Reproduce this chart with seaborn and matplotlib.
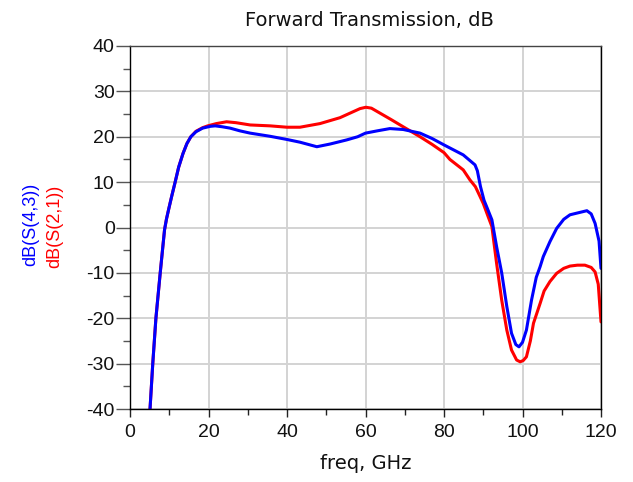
import numpy as np
import pandas as pd
import seaborn as sns
import matplotlib
matplotlib.use("Agg")
import matplotlib.pyplot as plt
from matplotlib.ticker import MultipleLocator

# ---- data ----
freq_s43 = [5.1, 5.8, 6.6, 7.7, 8.3, 8.8, 9.3, 9.9, 10.6, 11.5, 12.4, 13.5, 14.5, 15.5, 16.8, 18.5,
            20.5, 21.7, 23.5, 25.5, 28.0, 30.6,
            35.7, 40.0, 43.3, 47.6, 51.0, 55.2, 58.0, 60.0, 63.0, 66.2, 69.6, 73.9, 77.0,
            80.0, 84.9, 87.9, 88.5, 89.3, 90.2, 91.0, 92.2, 93.4, 94.7, 96.0, 97.2, 98.3,
            99.1, 100.0, 101.0, 102.3, 103.5, 104.5, 105.3, 107.0, 108.7, 110.5, 112.1,
            114.0, 116.4, 117.5, 118.5, 119.5, 120.0]
db_s43 = [-40, -30, -20, -10, -4.8, -0.5, 1.9, 4.2, 6.8, 10, 13.3, 16.3, 18.5, 20, 21.1, 21.9,
          22.3, 22.4, 22.2, 21.9, 21.3, 20.8,
          20.1, 19.4, 18.8, 17.8, 18.4, 19.3, 20.0, 20.8, 21.3, 21.8, 21.6, 20.8, 19.6,
          18.2, 16.0, 13.8, 12.5, 9.0, 6.0, 4.3, 1.7, -4.2, -10, -17.4, -23.3, -25.8,
          -26.3, -25.3, -22.6, -16.0, -11.0, -8.6, -6.4, -3.1, -0.2, 1.8, 2.8,
          3.2, 3.7, 3.0, 0.9, -3.0, -9.0]

freq_s21 = [5.1, 5.8, 6.6, 7.7, 8.3, 8.8, 9.3, 9.9, 10.6, 11.5, 12.4, 13.5, 14.5, 15.5, 16.8, 18.5,
            19.8, 22.0, 24.6,
            27.0, 30.6, 35.7, 40.0, 43.3, 48.4, 53.5, 58.6, 60.1, 61.5, 63.7, 66.5, 69.6,
            73.9, 77.0, 80.0, 81.5, 84.9, 86.6, 88.0, 89.2, 90.0, 91.2, 92.2, 93.4, 94.7,
            96.0, 97.2, 98.5, 99.4, 100.2, 101.0, 102.0, 102.8, 104.5, 105.5, 107.0, 108.7,
            110.5, 112.1, 114.0, 115.9, 117.5, 118.5, 119.3, 120.0]
db_s21 = [-40, -30, -20, -10, -4.8, -0.5, 1.9, 4.2, 6.8, 10, 13.3, 16.3, 18.5, 20, 21.2, 22.0,
          22.4, 22.9, 23.3,
          23.1, 22.6, 22.4, 22.1, 22.1, 22.9, 24.2, 26.2, 26.5, 26.3, 25.2, 23.8, 22.2,
          20.0, 18.3, 16.5, 15.0, 12.7, 10.5, 9.0, 6.8, 5.3, 2.5, 0.2, -7.9, -16.0,
          -22.6, -27.0, -29.2, -29.6, -29.3, -28.5, -25.0, -21.1, -16.7, -14.0, -11.9, -10.1,
          -9.0, -8.5, -8.3, -8.3, -8.8, -9.8, -12.5, -20.8]

x_ticks = [0, 20, 40, 60, 80, 100, 120]
y_ticks = [-40, -30, -20, -10, 0, 10, 20, 30, 40]

df = pd.concat([
    pd.DataFrame({"freq": freq_s21, "dB": db_s21, "trace": "dB(S(2,1))"}),
    pd.DataFrame({"freq": freq_s43, "dB": db_s43, "trace": "dB(S(4,3))"}),
], ignore_index=True)

sns.set_theme(style="white")
plt.rcParams["font.family"] = ["Liberation Sans", "DejaVu Sans"]
plt.rcParams["axes.unicode_minus"] = False

fig = plt.figure(figsize=(6.33, 4.82), dpi=100)
ax = fig.add_axes([130 / 633, 1 - 409 / 482, (601 - 130) / 633, (409 - 46) / 482])

sns.lineplot(data=df, x="freq", y="dB", hue="trace",
             palette={"dB(S(2,1))": "#ff0000", "dB(S(4,3))": "#0000ff"},
             linewidth=2.2, legend=False, ax=ax, sort=False, estimator=None)

ax.set_xlim(0, 120)
ax.set_ylim(-40, 40)
ax.set_xticks(x_ticks)
ax.set_yticks(y_ticks)
ax.xaxis.set_minor_locator(MultipleLocator(10))
ax.yaxis.set_minor_locator(MultipleLocator(5))
ax.grid(True, which="major", color="#d3d3d3", linewidth=1.4)
ax.set_axisbelow(True)

ax.tick_params(axis="x", which="major", direction="out", length=6, width=1, color="#222222",
               labelsize=14, pad=5, bottom=True)
ax.tick_params(axis="x", which="minor", direction="out", length=4, width=1, color="#222222",
               bottom=True)
ax.tick_params(axis="y", which="major", direction="out", length=10, width=1, color="#555555",
               labelsize=14, pad=1, left=True)
ax.tick_params(axis="y", which="minor", direction="out", length=5, width=1, color="#555555",
               left=True)
for lab in ax.get_xticklabels() + ax.get_yticklabels():
    lab.set_color("#111111")

for s in ["left", "bottom", "right", "top"]:
    ax.spines[s].set_visible(True)
    ax.spines[s].set_color("#000000")
    ax.spines[s].set_linewidth(1.0)
ax.spines["top"].set_color("#444444")

ax.set_xlabel("freq, GHz", fontsize=14, color="#111111", labelpad=9,
              family=["DejaVu Sans"])
ax.set_ylabel("")
fig.text(369 / 633, 1 - 21 / 482, "Forward Transmission, dB", fontsize=14,
         color="#111111", ha="center", va="center", family=["DejaVu Sans"])

fig.text(31 / 633, 1 - 224 / 482, "dB(S(4,3))", rotation=90, color="#0000ff",
         fontsize=13, ha="center", va="center")
fig.text(55 / 633, 1 - 226 / 482, "dB(S(2,1))", rotation=90, color="#ff0000",
         fontsize=13, ha="center", va="center")

fig.savefig("out.png", dpi=100, facecolor="white")
